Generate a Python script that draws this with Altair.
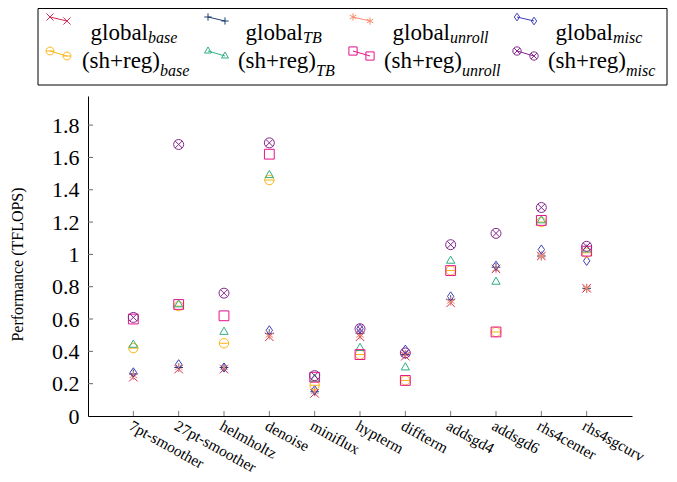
import altair as alt
import pandas as pd

# ---------------- data ----------------
categories = ["7pt-smoother", "27pt-smoother", "helmholtz", "denoise", "miniflux",
              "hypterm", "diffterm", "addsgd4", "addsgd6", "rhs4center", "rhs4sgcurv"]

series_keys = ["global_base", "global_TB", "global_unroll", "global_misc",
               "sh_base", "sh_TB", "sh_unroll", "sh_misc"]
legend_main = ["global", "global", "global", "global",
               "(sh+reg)", "(sh+reg)", "(sh+reg)", "(sh+reg)"]
legend_sub = ["base", "TB", "unroll", "misc", "base", "TB", "unroll", "misc"]
colors = ["#D62B53", "#1B3F6E", "#F88D6F", "#3D3DB8",
          "#FDB515", "#2FAE82", "#E8128A", "#86268E"]

global_base   = [0.24, 0.29, 0.29, 0.49, 0.14, 0.49, 0.37, 0.70, 0.91, 0.99, 0.79]
global_TB     = [0.26, 0.30, 0.30, 0.51, 0.15, 0.51, 0.38, 0.72, 0.92, 0.99, 0.79]
global_unroll = [0.25, 0.30, 0.30, 0.50, 0.15, 0.50, 0.38, 0.71, 0.91, 0.99, 0.79]
global_misc   = [0.27, 0.32, 0.30, 0.53, 0.16, 0.54, 0.41, 0.74, 0.93, 1.03, 0.96]
sh_base       = [0.42, 0.68, 0.45, 1.46, 0.19, 0.38, 0.22, 0.90, 0.52, 1.20, 1.01]
sh_TB         = [0.44, 0.69, 0.52, 1.49, 0.23, 0.42, 0.30, 0.96, 0.83, 1.21, 1.03]
sh_unroll     = [0.60, 0.69, 0.62, 1.62, 0.24, 0.38, 0.22, 0.90, 0.52, 1.21, 1.02]
sh_misc       = [0.61, 1.68, 0.76, 1.69, 0.25, 0.54, 0.39, 1.06, 1.13, 1.29, 1.05]

y_ticks = [0, 0.2, 0.4, 0.6, 0.8, 1, 1.2, 1.4, 1.6, 1.8]

# ---------------- marker shapes (style) ----------------
X_PATH = "M-1,-1L1,1M-1,1L1,-1"
PLUS_PATH = "M-1,0L1,0M0,-1L0,1"
AST_PATH = "M0,-1L0,1M-0.866,-0.5L0.866,0.5M-0.866,0.5L0.866,-0.5"
DIAMOND_PATH = "M0,-1L0.7,0L0,1L-0.7,0Z"
OMINUS_PATH = "M-1,0A1,1,0,1,1,1,0A1,1,0,1,1,-1,0ZM-1,0L1,0"
TRI_PATH = "M0,-1L0.866,0.5L-0.866,0.5Z"
SQUARE_PATH = "M-1,-1L1,-1L1,1L-1,1Z"
OTIMES_PATH = "M-1,0A1,1,0,1,1,1,0A1,1,0,1,1,-1,0ZM-0.707,-0.707L0.707,0.707M-0.707,0.707L0.707,-0.707"
shapes = [X_PATH, PLUS_PATH, AST_PATH, DIAMOND_PATH,
          OMINUS_PATH, TRI_PATH, SQUARE_PATH, OTIMES_PATH]
sizes = [72, 100, 100, 121, 130, 161, 90, 121]
legend_sizes = [s * 0.7 for s in sizes]

values_by_series = [global_base, global_TB, global_unroll, global_misc,
                    sh_base, sh_TB, sh_unroll, sh_misc]
rows = []
for key, vals in zip(series_keys, values_by_series):
    for c, v in zip(categories, vals):
        rows.append({"category": c, "series": key, "value": v})
df = pd.DataFrame(rows)

FONT = "Liberation Serif"
W, H = 544, 320
YMAX = 1.98
PX0, PY0 = 88, 96         # page position of the plot origin (top-left)

x_scale = alt.Scale(type="point", padding=1)
y_scale = alt.Scale(domain=[0, YMAX], nice=False, zero=False)

x_enc = alt.X(
    "category:N", sort=categories, scale=x_scale,
    axis=alt.Axis(title=None, labelAngle=29, labelAlign="left", labelBaseline="top",
                  labelFont=FONT, labelFontSize=15.5, labelColor="black",
                  labelPadding=2, labelOverlap=False, labelBound=False,
                  ticks=False, domainColor="black", domainWidth=1, grid=False),
)
y_enc = alt.Y(
    "value:Q", scale=y_scale,
    axis=alt.Axis(values=y_ticks, format="~g", title="Performance (TFLOPS)",
                  titleFont=FONT, titleFontSize=16, titleFontWeight="normal",
                  titleColor="black", titlePadding=26, titleY=168,
                  labelFont=FONT, labelFontSize=22, labelColor="black",
                  labelPadding=9, labelOverlap=False, labelBound=False,
                  ticks=False, domainColor="black", domainWidth=1, grid=False),
)

points = alt.Chart(df).mark_point(filled=False, strokeWidth=1, opacity=1).encode(
    x=x_enc,
    y=y_enc,
    color=alt.Color("series:N", scale=alt.Scale(domain=series_keys, range=colors), legend=None),
    shape=alt.Shape("series:N", scale=alt.Scale(domain=series_keys, range=shapes), legend=None),
    size=alt.Size("series:N", scale=alt.Scale(domain=series_keys, range=sizes), legend=None),
)

xt = pd.DataFrame({"category": categories})
xtick_rules = alt.Chart(xt).mark_rule(color="#777777", strokeWidth=1).encode(
    x=alt.X("category:N", sort=categories, scale=x_scale, axis=None),
    y=alt.value(H), y2=alt.value(H - 5),
)
yt = pd.DataFrame({"value": y_ticks[1:]})
ytick_rules = alt.Chart(yt).mark_rule(color="#666666", strokeWidth=1).encode(
    y=alt.Y("value:Q", scale=y_scale, axis=None),
    x=alt.value(0), x2=alt.value(5),
)

# ---------------- hand-made legend (subscripts need two text runs) ----------------
# layout constants in page pixels, converted to plot-relative pixels below
BOX = (38, 667, 8.5, 85)
mark_x = [50, 208, 353, 517]
mark_dx = 17
mark_y = [(17, 21), (51, 56)]
split_x = [[148, 303, 450, 613], [160, 316, 462, 626]]
base_main = [40, 68]
base_sub = [43, 76]

lp_rows, ll_rows, lt_rows, ls_rows = [], [], [], []
for i, key in enumerate(series_keys):
    col, row = i % 4, i // 4
    x0 = mark_x[col] - PX0
    x1 = x0 + mark_dx
    y0 = mark_y[row][0] - PY0
    y1 = mark_y[row][1] - PY0
    lp_rows.append({"lx": x0, "ly": y0, "lseries": key})
    lp_rows.append({"lx": x1, "ly": y1, "lseries": key})
    ll_rows.append({"lx": x0, "lx2": x1, "ly": y0, "ly2": y1, "lseries": key})
    lt_rows.append({"lx": split_x[row][col] - PX0, "ly": base_main[row] - PY0,
                    "txt": legend_main[i]})
    ls_rows.append({"lx": split_x[row][col] - PX0, "ly": base_sub[row] - PY0,
                    "txt": legend_sub[i]})

# identity pixel scales for the legend layers
lx_scale = alt.Scale(domain=[0, W], nice=False, zero=False)
ly_scale = alt.Scale(domain=[0, H], nice=False, zero=False, reverse=True)
LX = alt.X("lx:Q", scale=lx_scale, axis=None)
LY = alt.Y("ly:Q", scale=ly_scale, axis=None)

box = alt.Chart(pd.DataFrame({"lx": [BOX[0] - PX0], "lx2": [BOX[1] - PX0],
                              "ly": [BOX[2] - PY0], "ly2": [BOX[3] - PY0]})).mark_rect(
    fill="white", stroke="black", strokeWidth=1).encode(x=LX, x2="lx2:Q", y=LY, y2="ly2:Q")

lcolor = alt.Color("lseries:N", scale=alt.Scale(domain=series_keys, range=colors), legend=None)
llines = alt.Chart(pd.DataFrame(ll_rows)).mark_rule(strokeWidth=1).encode(
    x=LX, x2="lx2:Q", y=LY, y2="ly2:Q", color=lcolor)
lpoints = alt.Chart(pd.DataFrame(lp_rows)).mark_point(filled=False, strokeWidth=1, opacity=1).encode(
    x=LX, y=LY, color=lcolor,
    shape=alt.Shape("lseries:N", scale=alt.Scale(domain=series_keys, range=shapes), legend=None),
    size=alt.Size("lseries:N", scale=alt.Scale(domain=series_keys, range=legend_sizes), legend=None),
)
ltext = alt.Chart(pd.DataFrame(lt_rows)).mark_text(
    align="right", baseline="alphabetic", font=FONT, fontSize=23, color="black").encode(
    x=LX, y=LY, text="txt:N")
lsub = alt.Chart(pd.DataFrame(ls_rows)).mark_text(
    align="left", baseline="alphabetic", font=FONT, fontSize=16, fontStyle="italic",
    color="black").encode(x=LX, y=LY, text="txt:N")

SVG_W, SVG_H = 661, 466
chart = alt.layer(
    box, llines, lpoints, ltext, lsub, points, xtick_rules, ytick_rules
).resolve_scale(
    x="independent", y="independent", color="independent",
    shape="independent", size="independent",
).properties(
    width=W, height=H,
    autosize=alt.AutoSizeParams(type="none"),
    padding={"left": PX0 - 8, "top": PY0 - 8,
             "right": SVG_W - (PX0 - 8) - W, "bottom": SVG_H - (PY0 - 8) - H},
    background="white",
).configure_view(stroke=None)

chart.save("out.html", embed_options={"renderer": "svg", "actions": False})
